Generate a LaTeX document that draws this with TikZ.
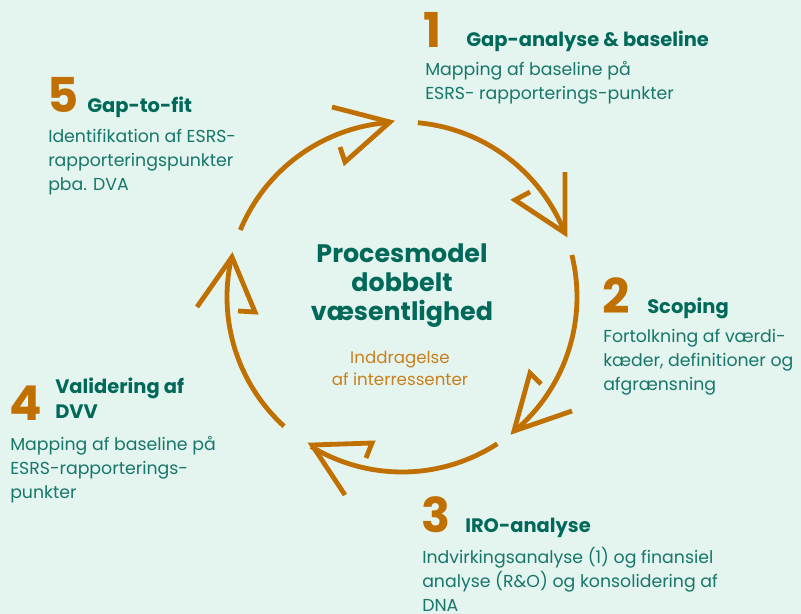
\documentclass[tikz,border=0pt]{standalone}
\usepackage{fontspec}
\setmainfont{Poppins}
\definecolor{bg}{HTML}{E4F4EE}
\definecolor{orng}{HTML}{C07000}
\definecolor{orlight}{HTML}{C8801E}
\definecolor{tealdark}{HTML}{00695A}
\definecolor{tealbody}{HTML}{17776A}
\tikzset{
  px/.style={x=0.75pt,y=-0.75pt},
  arcline/.style={draw=orng,line width=3.6pt,line cap=butt},
  headline/.style={draw=orng,line width=3.6pt,line cap=butt,line join=miter},
  digit/.style={anchor=base west,inner sep=0pt,text=orng,font=\fontsize{36}{36}\selectfont\bfseries},
  ttl/.style={anchor=base west,inner sep=0pt,text=tealdark,font=\fontsize{14.6}{18.75}\selectfont\bfseries,align=left},
  body/.style={anchor=base west,inner sep=0pt,text=tealbody,font=\fontsize{13}{18}\selectfont,align=left},
  ctitle/.style={anchor=base,inner sep=0pt,text=tealdark,font=\fontsize{19}{21.75}\selectfont\bfseries,align=center},
  csub/.style={anchor=base,inner sep=0pt,text=orlight,font=\fontsize{12.5}{16.5}\selectfont,align=center}
}
\begin{document}
\begin{tikzpicture}[px]
\useasboundingbox (0,0) rectangle (801,614);
\fill[bg] (0,0) rectangle (801,614);
% arcs
\draw[arcline] plot[domain=84.8:21.4,samples=40] ({402+175*cos(\x)},{297-175*sin(\x)});
\draw[arcline] plot[domain=13.9:-50.1,samples=40] ({402+175*cos(\x)},{297-175*sin(\x)});
\draw[arcline] plot[domain=-57:-121.3,samples=40] ({402+175*cos(\x)},{297-175*sin(\x)});
\draw[arcline] plot[domain=-132.4:-193.2,samples=40] ({402+175*cos(\x)},{297-175*sin(\x)});
\draw[arcline] plot[domain=157.5:93.9,samples=40] ({402+175*cos(\x)},{297-175*sin(\x)});
% arrow heads
\coordinate (t1) at (565,233); \coordinate (t2) at (514,431); \coordinate (t3) at (312,445);
\coordinate (t4) at (232,257); \coordinate (t5) at (390,122);
\draw[headline] (565,172) -- (t1) -- (515,200) -- (530,192);
\draw[headline] (572,411) -- (t2) -- (530,373) -- (541,384);
\draw[headline] (345,495) -- (t3) -- (372,443) -- (366,458);
\draw[headline] (197,307) -- (t4) -- (255,312) -- (238,311);
\draw[headline] (332,107) -- (t5) -- (345,162) -- (340,147);
% center
\node[ctitle] (ct) at (402,320) {Procesmodel\\dobbelt\\væsentlighed};
\node[csub] (cs) at (400,385) {Inddragelse\\af interressenter};
% block 1
\node[digit] (d1) at (423,47) {1};
\node[ttl] (h1) at (466,46) {Gap-analyse \& baseline};
\node[body] (b1) at (425,99) {Mapping af baseline på\\ESRS- rapporterings-punkter};
% block 2
\node[digit] (d2) at (602,313) {2};
\node[ttl] (h2) at (647,313) {Scoping};
\node[body] (b2) at (603,390) {Fortolkning af værdi-\\kæder, definitioner og\\afgrænsning};
% block 3
\node[digit] (d3) at (421,532) {3};
\node[ttl] (h3) at (465,532) {IRO-analyse};
\node[body] (b3) at (422,611) {Indvirkingsanalyse (1) og finansiel\\analyse (R\&O) og konsolidering af\\DNA};
% block 4
\node[digit] (d4) at (9,420) {4};
\node[ttl] (h4) at (55,418) {Validering af\\DVV};
\node[body] (b4) at (10,498) {Mapping af baseline på\\ESRS-rapporterings-\\punkter};
% block 5
\node[digit] (d5) at (47,112) {5};
\node[ttl] (h5) at (87,112) {Gap-to-fit};
\node[body] (b5) at (48,190) {Identifikation af ESRS-\\rapporteringspunkter\\pba. DVA};
\end{tikzpicture}
\end{document}
